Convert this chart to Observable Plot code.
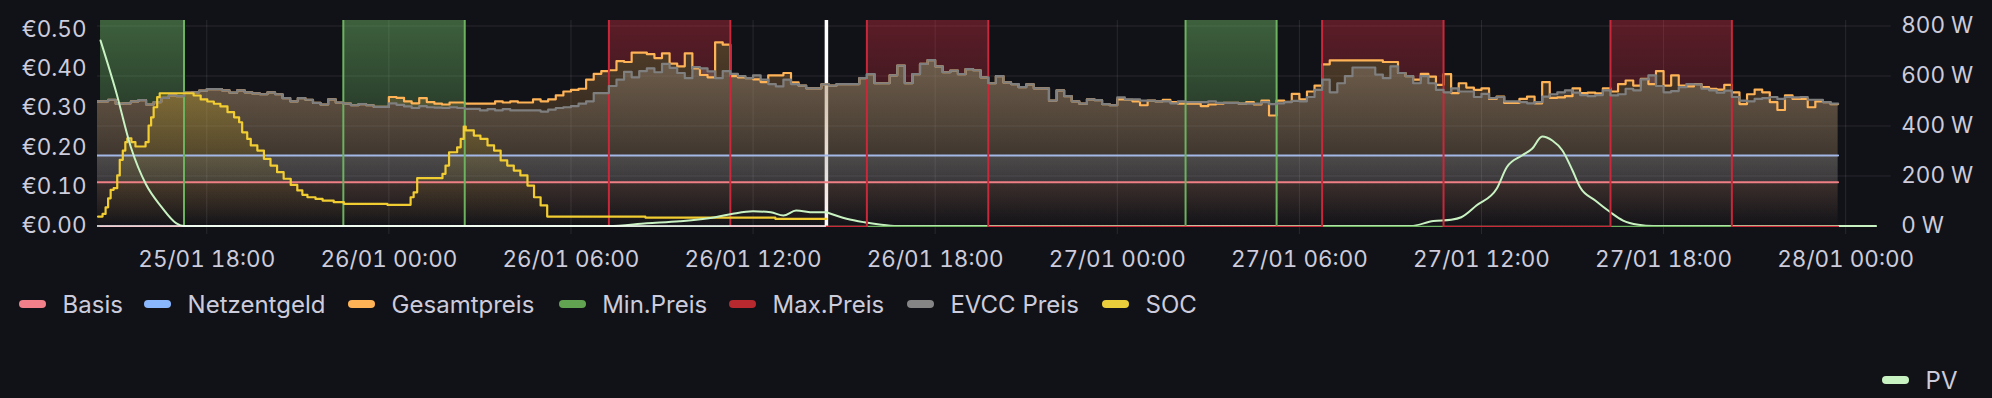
<!DOCTYPE html>
<html><head><meta charset="utf-8">
<script src="https://cdn.jsdelivr.net/npm/d3@7"></script>
<script src="https://cdn.jsdelivr.net/npm/@observablehq/plot@0.6"></script>
<style>
html,body{margin:0;padding:0;background:#111217;}
body{width:1992px;height:398px;overflow:hidden;position:relative;font-family:Inter,"Noto Sans",sans-serif;}
#chart{position:absolute;left:0;top:0;}
.item{position:absolute;height:30px;display:flex;align-items:center;font-size:24px;color:#ccccdc;white-space:nowrap;}
.sw{width:27px;height:8px;border-radius:4px;margin-right:16.6px;}
</style></head><body>
<div id="chart"></div>
<div id="legend"></div>
<script>
// ---------------- data ----------------
// 15-minute prices (€/kWh)
const priceStart25 = "2025-01-25T14:15";
const evcc25 = [0.317,0.317,0.321,0.311,0.312,0.317,0.320,0.309,0.315,0.326,0.332,0.330,0.339,0.340,0.344,0.348,0.348,0.345,0.339,0.345,0.340,0.337,0.335,0.340,0.335,0.325,0.317,0.325,0.321,0.313,0.309,0.322,0.314,0.311,0.307,0.310,0.307,0.303,0.303];
const gesamt25 = [0.317,0.317,0.321,0.311,0.312,0.317,0.320,0.309,0.315,0.326,0.332,0.330,0.339,0.340,0.344,0.348,0.348,0.345,0.339,0.345,0.340,0.337,0.335,0.340,0.335,0.325,0.317,0.325,0.321,0.313,0.309,0.322,0.314,0.311,0.307,0.310,0.307,0.303,0.303];
const priceStart26 = "2025-01-26T00:00";
const evcc26 = [
 0.312,0.308,0.304,0.300, 0.305,0.302,0.301,0.300, 0.302,0.300,0.298,0.298, 0.294,0.297,0.294,0.297,
 0.294,0.294,0.294,0.294, 0.291,0.296,0.300,0.302, 0.305,0.311,0.317,0.338, 0.338,0.356,0.372,0.392,
 0.378,0.394,0.401,0.391, 0.412,0.402,0.389,0.376, 0.404,0.401,0.393,0.376, 0.394,0.387,0.381,0.376,
 0.383,0.372,0.361,0.355, 0.372,0.361,0.357,0.350, 0.350,0.360,0.357,0.361, 0.361,0.361,0.376,0.386,
 0.363,0.363,0.383,0.408, 0.363,0.386,0.412,0.422, 0.406,0.391,0.395,0.386, 0.399,0.396,0.378,0.363,
 0.381,0.365,0.361,0.353, 0.360,0.350,0.350,0.319, 0.345,0.330,0.317,0.311, 0.322,0.320,0.310,0.307];
const gesamt26 = [
 0.328,0.326,0.317,0.312, 0.325,0.315,0.311,0.309, 0.314,0.314,0.311,0.311, 0.311,0.311,0.317,0.314,
 0.317,0.314,0.314,0.322, 0.317,0.322,0.332,0.342, 0.346,0.349,0.372,0.387, 0.394,0.396,0.419,0.417,
 0.441,0.441,0.437,0.427, 0.439,0.413,0.406,0.439, 0.401,0.384,0.378,0.467, 0.461,0.381,0.378,0.376,
 0.373,0.366,0.383,0.383, 0.389,0.365,0.357,0.350, 0.350,0.360,0.357,0.361, 0.361,0.361,0.376,0.386,
 0.363,0.363,0.383,0.408, 0.363,0.386,0.412,0.422, 0.406,0.391,0.395,0.386, 0.399,0.396,0.378,0.363,
 0.381,0.365,0.361,0.353, 0.360,0.350,0.350,0.319, 0.345,0.330,0.317,0.311, 0.322,0.320,0.310,0.307];
const priceStart27 = "2025-01-27T00:00";
const evcc27 = [
 0.327,0.322,0.322,0.319, 0.319,0.317,0.317,0.312, 0.317,0.315,0.315,0.315, 0.317,0.313,0.313,0.313,
 0.311,0.311,0.311,0.315, 0.310,0.312,0.315,0.318, 0.317,0.328,0.346,0.372, 0.340,0.363,0.381,0.403,
 0.403,0.403,0.385,0.376, 0.406,0.389,0.381,0.363, 0.381,0.363,0.346,0.340, 0.350,0.342,0.342,0.328,
 0.336,0.325,0.328,0.317, 0.317,0.315,0.312,0.315, 0.329,0.335,0.340,0.345, 0.339,0.333,0.330,0.333,
 0.345,0.332,0.335,0.349, 0.345,0.373,0.383,0.356, 0.340,0.343,0.353,0.361, 0.360,0.349,0.345,0.339,
 0.344,0.328,0.319,0.317, 0.323,0.325,0.328,0.323, 0.328,0.327,0.328,0.321, 0.321,0.315,0.311,0.311];
const gesamt27 = [
 0.322,0.321,0.317,0.307, 0.319,0.317,0.321,0.315, 0.311,0.311,0.311,0.305, 0.309,0.311,0.313,0.313,
 0.311,0.315,0.309,0.319, 0.281,0.319,0.316,0.336, 0.322,0.342,0.357,0.411, 0.421,0.421,0.421,0.421,
 0.421,0.421,0.421,0.417, 0.417,0.389,0.381,0.372, 0.387,0.380,0.359,0.386, 0.338,0.363,0.352,0.346,
 0.350,0.323,0.329,0.313, 0.313,0.323,0.329,0.312, 0.366,0.326,0.327,0.330, 0.350,0.338,0.339,0.337,
 0.350,0.342,0.361,0.370, 0.357,0.374,0.361,0.394, 0.357,0.383,0.357,0.355, 0.361,0.353,0.349,0.347,
 0.359,0.340,0.310,0.335, 0.347,0.340,0.315,0.295, 0.332,0.323,0.323,0.302, 0.317,0.315,0.310,0.310];

// constant price components (€/kWh)
const basisTimes = ["2025-01-25T14:15","2025-01-27T23:45"];
const basisValues = [0.111, 0.111];
const netzTimes = ["2025-01-25T14:15","2025-01-27T23:45"];
const netzValues = [0.179, 0.179];

// cheapest / most expensive windows
const minWindows = [["2025-01-25T14:30","2025-01-25T17:15"],["2025-01-25T22:30","2025-01-26T02:30"],["2025-01-27T02:15","2025-01-27T05:15"]];
const maxWindows = [["2025-01-26T07:15","2025-01-26T11:15"],["2025-01-26T15:45","2025-01-26T19:45"],["2025-01-27T06:45","2025-01-27T10:45"],["2025-01-27T16:15","2025-01-27T20:15"]];
const flagStart = "2025-01-25T14:30", flagEnd = "2025-01-27T23:45";

// battery state of charge (%)
const socTimes = ["2025-01-25T14:25","2025-01-25T14:34","2025-01-25T14:40","2025-01-25T14:45","2025-01-25T14:50","2025-01-25T14:56","2025-01-25T15:03","2025-01-25T15:08","2025-01-25T15:14","2025-01-25T15:19","2025-01-25T15:23","2025-01-25T15:31","2025-01-25T15:39","2025-01-25T15:59","2025-01-25T16:05","2025-01-25T16:10","2025-01-25T16:15","2025-01-25T16:22","2025-01-25T16:27","2025-01-25T17:34","2025-01-25T17:48","2025-01-25T18:01","2025-01-25T18:14","2025-01-25T18:27","2025-01-25T18:41","2025-01-25T18:54","2025-01-25T19:04","2025-01-25T19:10","2025-01-25T19:20","2025-01-25T19:27","2025-01-25T19:40","2025-01-25T19:53","2025-01-25T20:06","2025-01-25T20:19","2025-01-25T20:32","2025-01-25T20:46","2025-01-25T20:59","2025-01-25T21:09","2025-01-25T21:19","2025-01-25T21:35","2025-01-25T21:49","2025-01-25T22:11","2025-01-25T22:31","2025-01-25T23:57","2025-01-26T00:43","2025-01-26T00:49","2025-01-26T00:56","2025-01-26T01:46","2025-01-26T01:52","2025-01-26T01:59","2025-01-26T02:15","2025-01-26T02:22","2025-01-26T02:28","2025-01-26T02:32","2025-01-26T02:48","2025-01-26T03:01","2025-01-26T03:15","2025-01-26T03:28","2025-01-26T03:41","2025-01-26T03:54","2025-01-26T04:07","2025-01-26T04:20","2025-01-26T04:34","2025-01-26T04:47","2025-01-26T05:00","2025-01-26T05:13","2025-01-26T08:27","2025-01-26T12:44","2025-01-26T14:25"];
const socValues = [4.6,5.9,9.1,13.5,17.6,18.4,24.6,32.2,36.7,40.8,42.7,40.8,38.7,40.8,48.9,52.9,57.8,62.7,64.6,63.5,61.6,60.6,59.5,58.2,55.4,52.9,50.5,45.6,42.4,39.2,36.7,32.7,29.4,26.2,23.0,20.0,17.3,15.2,14.0,13.2,12.4,11.6,10.8,10.3,14.0,16.4,23.3,25.4,29.4,35.9,38.3,42.4,48.4,46.5,44.0,42.4,39.2,36.7,31.9,29.4,27.0,24.6,19.7,14.0,10.0,4.6,4.1,3.5,3.5];

// PV power (W)
const pvTimes = ["2025-01-25T14:30","2025-01-25T15:00","2025-01-25T15:30","2025-01-25T16:00","2025-01-25T16:30","2025-01-25T17:00","2025-01-25T17:15","2025-01-26T07:15","2025-01-26T08:30","2025-01-26T09:35","2025-01-26T10:45","2025-01-26T11:20","2025-01-26T12:00","2025-01-26T12:35","2025-01-26T13:00","2025-01-26T13:25","2025-01-26T14:00","2025-01-26T14:25","2025-01-26T15:05","2025-01-26T15:40","2025-01-26T16:10","2025-01-26T16:45","2025-01-27T09:40","2025-01-27T10:25","2025-01-27T11:00","2025-01-27T11:20","2025-01-27T11:50","2025-01-27T12:30","2025-01-27T12:50","2025-01-27T13:20","2025-01-27T13:40","2025-01-27T14:00","2025-01-27T14:20","2025-01-27T14:40","2025-01-27T15:00","2025-01-27T15:15","2025-01-27T15:45","2025-01-27T16:15","2025-01-27T16:40","2025-01-27T17:10","2025-01-27T17:40","2025-01-28T01:00"];
const pvWatts = [742,542,315,166,78,11,0,0,11,19,35,49,59,55,42,62,55,55,29,15,6,0,0,20,25,35,82,149,235,282,309,358,342,302,222,155,102,55,22,5,0,0];

// axes
const xTicks = ["2025-01-25T18:00","2025-01-26T00:00","2025-01-26T06:00","2025-01-26T12:00","2025-01-26T18:00","2025-01-27T00:00","2025-01-27T06:00","2025-01-27T12:00","2025-01-27T18:00","2025-01-28T00:00"];
const leftTicks = [0,0.1,0.2,0.3,0.4,0.5];
const rightTicks = [0,200,400,600,800];
const nowTime = "2025-01-26T14:25";
const xDomain = ["2025-01-25T14:24","2025-01-28T01:30"];

// legend
const legendNames = ["Basis","Netzentgeld","Gesamtpreis","Min.Preis","Max.Preis","EVCC Preis","SOC"];
const legendColors = ["#F2808A","#8AB8FF","#FFB357","#62A352","#B8282F","#858585","#EACD3B"];
const legendRightNames = ["PV"];
const legendRightColors = ["#C8F2C2"];

// ---------------- layout (not data) ----------------
const LEG1_X = [19, 144, 348, 558.6, 729, 906.8, 1102];
const LEG1_TOP = 289;
const LEG2_X = [1882];
const LEG2_TOP = 365;

// ---------------- build ----------------
const T = s => new Date(s + ":00Z");
const EUR_PER_W = 0.5085 / 800;      // right axis: 800 W aligns with €0.5085
const EUR_PER_SOC = 0.5225 / 100;    // hidden SOC axis: 100 % = top of panel
const FLAG_ON = 0.6, FLAG_OFF = -0.002;
const NOW = T(nowTime);

const rows = [];
function addDay(start, ev, ge) {
  const t0 = +T(start);
  ev.forEach((v, i) => rows.push({t: new Date(t0 + i * 900000), evcc: v, gesamt: ge[i]}));
}
addDay(priceStart25, evcc25, gesamt25);
addDay(priceStart26, evcc26, gesamt26);
addDay(priceStart27, evcc27, gesamt27);

const minW = minWindows.map(([a, b]) => [T(a), T(b)]);
const maxW = maxWindows.map(([a, b]) => [T(a), T(b)]);
const inWin = (t, W) => W.some(([a, b]) => t >= a && t <= b);

function flagSeries(W) {
  const pts = [];
  const s = T(flagStart);
  pts.push({t: s, v: inWin(s, W) ? FLAG_ON : FLAG_OFF});
  for (const [a, b] of W) {
    if (+a > +s) pts.push({t: a, v: FLAG_ON});
    pts.push({t: b, v: FLAG_OFF});
  }
  pts.push({t: T(flagEnd), v: FLAG_OFF});
  return pts;
}
const minFlags = flagSeries(minW);
const maxFlags = flagSeries(maxW);

const basisRows = basisTimes.map((t, i) => ({t: T(t), v: basisValues[i]}));
const netzRows = netzTimes.map((t, i) => ({t: T(t), v: netzValues[i], b: basisValues[i]}));
const socRows = socTimes.map((t, i) => ({t: T(t), v: socValues[i] * EUR_PER_SOC}));
const pvRows = pvTimes.map((t, i) => ({t: T(t), v: pvWatts[i] * EUR_PER_W}));
const pvPast = pvRows.filter(d => d.t <= NOW);
const pvFuture = pvRows.filter(d => d.t >= NOW);

const GRID = "#ccccdc";
const step = "step-after";

const chart = Plot.plot({
  width: 1992, height: 290,
  marginTop: 20, marginBottom: 62.9, marginLeft: 97, marginRight: 101.3,
  style: {background: "transparent", color: "#ccccdc", fontFamily: "Inter, 'Noto Sans', sans-serif", fontSize: "22.5px", overflow: "visible"},
  x: {type: "utc", domain: xDomain.map(T)},
  y: {domain: [-0.004, 0.5225]},
  marks: [
    Plot.gridY(rightTicks.slice(1).map(w => w * EUR_PER_W), {stroke: GRID, strokeOpacity: 0.12, strokeWidth: 1}),
    Plot.gridX(xTicks.map(T), {stroke: GRID, strokeOpacity: 0.12, strokeWidth: 1}),
    // now marker
    Plot.ruleX([NOW], {stroke: "#ffffff", strokeWidth: 3.5}),
    // window fills (above price)
    Plot.areaY(rows, {x: "t", y1: d => inWin(d.t, minW) ? d.evcc : NaN, y2: () => FLAG_ON, curve: step, fill: "url(#gMin)", clip: true}),
    Plot.areaY(rows, {x: "t", y1: d => inWin(d.t, maxW) ? d.gesamt : NaN, y2: () => FLAG_ON, curve: step, fill: "url(#gMax)", clip: true}),
    // component fills
    Plot.areaY(basisRows, {x: "t", y: "v", fill: "url(#gBasis)", clip: true}),
    Plot.areaY(netzRows, {x: "t", y1: "b", y2: "v", fill: "url(#gNetz)", clip: true}),
    // price fills
    Plot.areaY(rows, {x: "t", y: "gesamt", curve: step, fill: "url(#gGes)", clip: true}),
    Plot.areaY(rows, {x: "t", y: "evcc", curve: step, fill: "url(#gEvcc)", clip: true}),
    Plot.areaY(socRows, {x: "t", y: "v", curve: step, fill: "url(#gSoc)", clip: true}),
    // lines
    Plot.line(basisRows, {x: "t", y: "v", stroke: "#EE7F85", strokeWidth: 2, clip: true}),
    Plot.line(netzRows, {x: "t", y: "v", stroke: "#A3B8E6", strokeWidth: 2, clip: true}),
    Plot.line(rows, {x: "t", y: "gesamt", curve: step, stroke: "#FFB357", strokeWidth: 2.2, clip: true}),
    Plot.line(pvFuture, {x: "t", y: "v", curve: "monotone-x", stroke: "#C8F2C2", strokeWidth: 2, clip: true}),
    Plot.line(minFlags, {x: "t", y: "v", curve: step, stroke: "#6CB25F", strokeWidth: 2, clip: true}),
    Plot.line(maxFlags, {x: "t", y: "v", curve: step, stroke: "#C9283A", strokeWidth: 2, clip: true}),
    Plot.line(rows, {x: "t", y: "evcc", curve: step, stroke: "#7F7F7F", strokeWidth: 2.2, clip: true}),
    Plot.line(socRows, {x: "t", y: "v", curve: step, stroke: "#F2CD32", strokeWidth: 2.2, clip: true}),
    Plot.line(pvPast, {x: "t", y: "v", curve: "monotone-x", stroke: "#C8F2C2", strokeWidth: 2, clip: true}),
    Plot.ruleY([0], {x1: T(xDomain[0]), x2: NOW, stroke: "#ffffff", strokeWidth: 1.6}),
    // axes
    Plot.axisX(xTicks.map(T), {tickFormat: d3.utcFormat("%d/%m %H:%M"), tickSize: 7, tickPadding: 16, stroke: GRID, strokeOpacity: 0.12, fill: "#ccccdc", label: null}),
    Plot.axisY(leftTicks, {anchor: "left", tickSize: 0, tickPadding: 11, tickFormat: d => "€" + d.toFixed(2), fill: "#ccccdc", label: null}),
    Plot.axisY(rightTicks.map(w => w * EUR_PER_W), {anchor: "right", tickSize: 0, tickPadding: 10, tickFormat: d => Math.round(d / EUR_PER_W) + " W", fill: "#ccccdc", label: null})
  ]
});

// gradients (Grafana "opacity" gradient: full at top of panel, transparent at bottom)
const gradients = [
  ["gMin", "#73BF69", 0.45],
  ["gMax", "#E02F44", 0.36],
  ["gBasis", "#FF7383", 0.30],
  ["gNetz", "#8AB8FF", 0.47],
  ["gGes", "#FFB357", 0.30],
  ["gEvcc", "#918272", 0.60],
  ["gSoc", "#F2CC0C", 0.32]
];
const ns = "http://www.w3.org/2000/svg";
const defs = document.createElementNS(ns, "defs");
for (const [id, color, op] of gradients) {
  const g = document.createElementNS(ns, "linearGradient");
  g.setAttribute("id", id);
  g.setAttribute("gradientUnits", "userSpaceOnUse");
  g.setAttribute("x1", 0); g.setAttribute("x2", 0);
  g.setAttribute("y1", 20); g.setAttribute("y2", 227.1);
  for (const [off, o] of [[0, op], [1, 0]]) {
    const s = document.createElementNS(ns, "stop");
    s.setAttribute("offset", off);
    s.setAttribute("stop-color", color);
    s.setAttribute("stop-opacity", o);
    g.appendChild(s);
  }
  defs.appendChild(g);
}
chart.insertBefore(defs, chart.firstChild);
document.getElementById("chart").appendChild(chart);

const legendEl = document.getElementById("legend");
function buildLegend(names, colors, xs, top) {
  names.forEach((n, i) => {
    const it = document.createElement("div"); it.className = "item";
    it.style.left = xs[i] + "px"; it.style.top = top + "px";
    const sw = document.createElement("div"); sw.className = "sw"; sw.style.background = colors[i];
    const tx = document.createElement("span"); tx.textContent = n;
    it.appendChild(sw); it.appendChild(tx); legendEl.appendChild(it);
  });
}
buildLegend(legendNames, legendColors, LEG1_X, LEG1_TOP);
buildLegend(legendRightNames, legendRightColors, LEG2_X, LEG2_TOP);
</script></body></html>
